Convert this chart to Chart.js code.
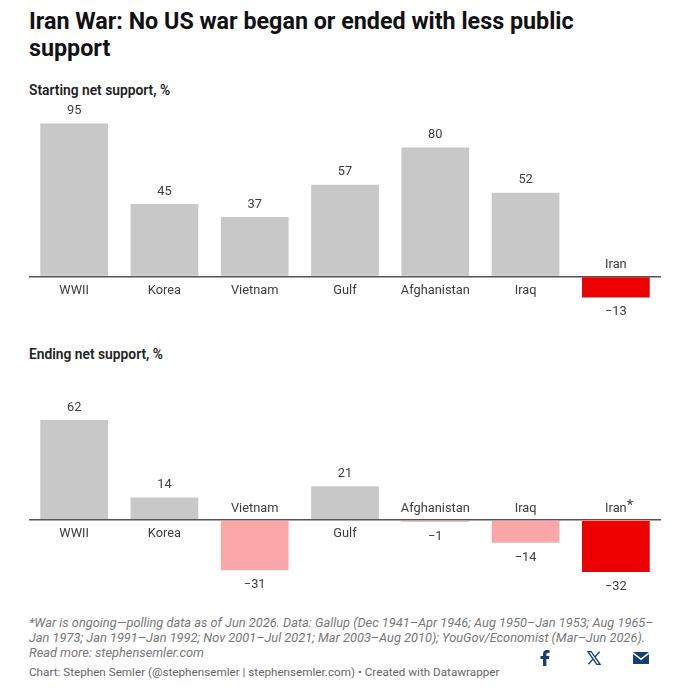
<!DOCTYPE html>
<html>
<head>
<meta charset="utf-8">
<title>Iran War public support</title>
<script src="https://cdn.jsdelivr.net/npm/chart.js@4"></script>
<style>
  html, body { margin: 0; padding: 0; background: #fff; }
  body { width: 677px; height: 687px; position: relative; overflow: hidden; font-family: Roboto, sans-serif; }
  .t { position: absolute; white-space: nowrap; }
  #title { left: 29px; top: 8px; font-size: 23.3px; line-height: 27px; font-weight: 700; color: #111; }
  .sub { left: 29px; font-size: 13.8px; line-height: 18px; font-weight: 600; color: #222; }
  #notes { left: 29px; top: 615px; font-size: 12.8px; line-height: 15px; font-style: italic; color: #777; }
  #byline { left: 29px; top: 664px; font-size: 11.7px; line-height: 16px; color: #666; }
  canvas { position: absolute; left: 29px; }
  svg { position: absolute; }
</style>
</head>
<body>
<div class="t" id="title">Iran War: No US war began or ended with less public<br>support</div>
<div class="t sub" style="top:81px">Starting net support, %</div>
<canvas id="startChart" width="632" height="229" style="top:96px"></canvas>
<div class="t sub" style="top:345px">Ending net support, %</div>
<canvas id="endChart" width="632" height="210" style="top:391px"></canvas>
<div class="t" id="notes">*War is ongoing—polling data as of Jun 2026. Data: Gallup (Dec 1941–Apr 1946; Aug 1950–Jan 1953; Aug 1965–<br>Jan 1973; Jan 1991–Jan 1992; Nov 2001–Jul 2021; Mar 2003–Aug 2010); YouGov/Economist (Mar–Jun 2026).<br>Read more: stephensemler.com</div>
<div class="t" id="byline">Chart: Stephen Semler (@stephensemler | stephensemler.com) • Created with Datawrapper</div>

<svg style="left:540px;top:650px" width="11" height="16" viewBox="0 0 11 16"><path fill="#17406d" d="M3 16V9H0.5V6H3V4C3 1.5 4.5 0 6.8 0H9.5V3H7.6C6.7 3 6.4 3.5 6.4 4.2V6H9.4L9 9H6.4V16Z"/></svg>
<svg style="left:587px;top:651px" width="14" height="14" viewBox="0 0 14 14"><path fill="none" stroke="#17406d" stroke-width="1.3" d="M1 .7H4.2L13 13.3H9.8ZM12.6 .7 7.7 6.3M1.4 13.3 6.4 7.6"/></svg>
<svg style="left:633px;top:652px" width="16" height="12" viewBox="0 0 16 12"><path fill="#17406d" d="M0 0H16L8 6.2ZM0 2 8 8.2 16 2V12H0Z"/></svg>

<script>
// Net support for each war, at its start and at its end
const categories = ['WWII', 'Korea', 'Vietnam', 'Gulf', 'Afghanistan', 'Iraq', 'Iran'];
const endCategories = ['WWII', 'Korea', 'Vietnam', 'Gulf', 'Afghanistan', 'Iraq', 'Iran*'];
const startingSupport = [95, 45, 37, 57, 80, 52, -13];
const endingSupport = [62, 14, -31, 21, -1, -14, -32];

const GREY = '#c8c8c8', PINK = '#fba6a9', RED = '#ee0000', INK = '#3d3d3d';
const LABEL_FONT = '12.8px Roboto, sans-serif';

const formatValue = v => (v < 0 ? '\u2212' + Math.abs(v) : String(v));

// Value above or below each bar; the category name sits on the opposite side of the baseline
const barLabels = {
  id: 'barLabels',
  afterDatasetsDraw(chart) {
    const { ctx, scales: { x, y } } = chart;
    const values = chart.data.datasets[0].data;
    const zero = y.getPixelForValue(0);
    ctx.save();
    ctx.font = LABEL_FONT;
    ctx.fillStyle = INK;
    ctx.textAlign = 'center';
    ctx.textBaseline = 'middle';
    values.forEach((v, i) => {
      const cx = x.getPixelForValue(i);
      const end = y.getPixelForValue(v);
      ctx.fillText(formatValue(v), cx, v < 0 ? end + 14.5 : end - 12.5);
      const name = chart.data.labels[i];
      const ny = v < 0 ? zero - 11.5 : zero + 14;
      if (name.endsWith('*')) {
        // The footnote mark hangs off the name, raised and a little larger
        const base = name.slice(0, -1);
        ctx.fillText(base, cx, ny);
        const w = ctx.measureText(base).width;
        ctx.textAlign = 'left';
        ctx.font = '15px Roboto, sans-serif';
        ctx.fillText('*', cx + w / 2, ny - 2);
        ctx.font = LABEL_FONT;
        ctx.textAlign = 'center';
      } else {
        ctx.fillText(name, cx, ny);
      }
    });
    ctx.restore();
  }
};

function drawBars(id, labels, values, yMin, yMax) {
  return new Chart(document.getElementById(id), {
    type: 'bar',
    plugins: [barLabels],
    data: {
      labels,
      datasets: [{
        data: values,
        backgroundColor: c => {
          if (labels[c.dataIndex].startsWith('Iran')) return RED;
          return c.raw < 0 ? PINK : GREY;
        },
        barPercentage: 1,
        categoryPercentage: 0.75,
        borderWidth: 0
      }]
    },
    options: {
      responsive: false,
      animation: false,
      devicePixelRatio: 1,
      layout: { padding: 0 },
      plugins: { legend: { display: false }, tooltip: { enabled: false } },
      scales: {
        x: { display: false },
        y: {
          min: yMin,
          max: yMax,
          border: { display: false },
          ticks: { display: false, stepSize: 10 },
          grid: {
            drawTicks: false,
            z: 1,
            lineWidth: 1.5,
            color: c => (c.tick.value === 0 ? '#555' : 'transparent')
          },
          afterFit: s => { s.width = 0; }
        }
      }
    }
  });
}

drawBars('startChart', categories, startingSupport, -30, 112);
drawBars('endChart', endCategories, endingSupport, -50, 80);
</script>
</body>
</html>
